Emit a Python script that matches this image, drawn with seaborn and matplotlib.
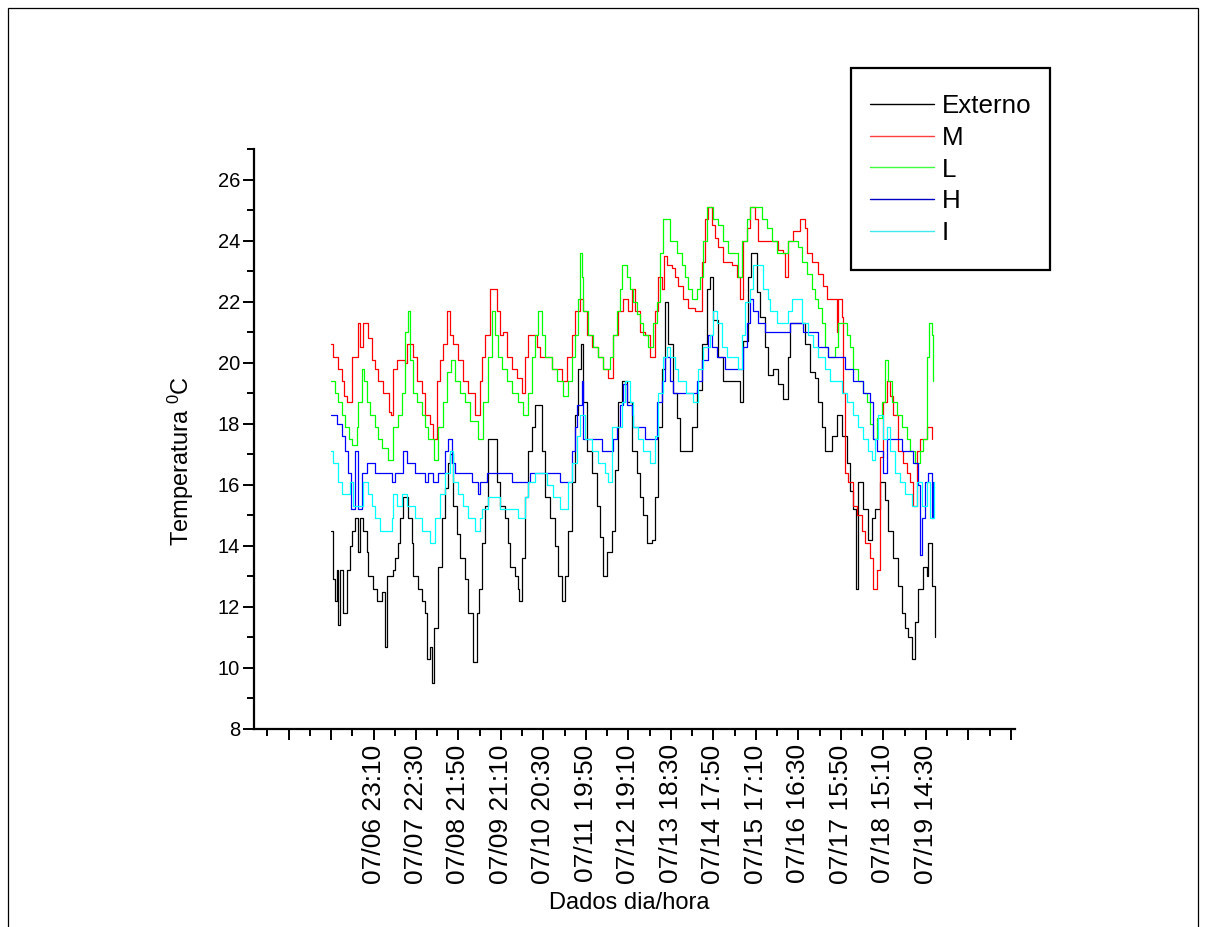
import numpy as np
import pandas as pd
import matplotlib
matplotlib.use("Agg")
import matplotlib.pyplot as plt
import seaborn as sns
from matplotlib.patches import Rectangle
from matplotlib.lines import Line2D
from matplotlib.ticker import FixedLocator, MultipleLocator

# ---------------- data (hours since 07/05 23:50, temperature in degC) ----------------
externo_t = [0.0, 1.3, 2.2, 3.1, 4.0, 4.9, 6.8, 8.6, 10.4, 11.4, 13.2, 15.0, 15.9, 17.7, 19.6, 20.5,
             23.2, 25.1, 27.8, 29.6, 30.6, 34.2, 35.1, 36.9, 37.9, 39.7, 41.6, 42.4, 44.3, 45.2, 47.9,
             49.8, 51.6, 52.5, 54.4, 55.3, 56.7, 58.9, 60.8, 62.6, 64.5, 65.4, 67.2, 69.0, 70.8, 73.6,
             75.4, 78.1, 80.0, 81.2, 82.7, 84.5, 86.4, 89.1, 91.0, 92.8, 95.5, 97.3, 98.3, 101.0, 102.8,
             103.4, 104.7, 106.5, 108.3, 110.2, 112.0, 113.8, 115.7, 117.5, 120.3, 123.0, 124.8, 126.7,
             128.5, 130.3, 132.1, 134.0, 135.8, 137.3, 138.5, 140.4, 143.1, 145.9, 147.7, 149.5, 151.4,
             154.1, 155.9, 157.7, 159.6, 162.3, 165.1, 167.8, 169.6, 171.5, 173.3, 176.1, 177.9, 179.7,
             181.5, 183.4, 185.2, 187.9, 189.8, 191.6, 195.2, 198.0, 200.7, 203.5, 206.2, 208.1, 209.9,
             212.6, 215.4, 221.8, 224.5, 226.4, 229.1, 230.9, 233.7, 235.5, 238.3, 240.1, 242.9, 245.6,
             248.4, 251.1, 252.0, 258.4, 260.3, 263.0, 265.7, 267.6, 269.4, 271.3, 273.1, 274.9, 277.7,
             280.4, 283.2, 285.0, 286.8, 288.3, 289.6, 292.3, 295.1, 296.9, 298.8, 301.5, 304.2, 306.1,
             308.8, 311.6, 313.4, 315.2, 317.1, 318.9, 320.7, 322.5, 325.3, 327.1, 328.0, 329.8, 331.6]
externo_v = [14.5, 12.9, 12.2, 13.2, 11.4, 13.2, 11.8, 13.2, 14.0, 14.5, 14.9, 13.8, 14.9, 14.5, 13.8, 13.0,
             12.6, 12.2, 12.5, 10.7, 13.0, 13.2, 13.6, 14.1, 14.9, 15.6, 15.6, 14.9, 14.1, 13.0, 12.6,
             12.2, 11.8, 10.3, 10.7, 9.5, 11.3, 13.3, 14.9, 15.9, 16.7, 17.0, 15.3, 14.4, 13.6, 12.9,
             11.8, 10.2, 11.8, 12.6, 14.1, 15.3, 17.5, 17.5, 16.1, 15.3, 14.9, 14.1, 13.3, 13.0, 12.6,
             12.2, 13.6, 15.6, 17.1, 17.9, 18.6, 18.6, 17.1, 15.6, 14.9, 14.0, 13.0, 12.2,
             13.0, 14.5, 16.1, 18.3, 19.8, 20.6, 18.7, 17.1, 16.4, 15.3, 14.3, 13.0, 13.8,
             14.5, 16.5, 18.7, 19.4, 18.7, 17.1, 16.4, 15.6, 15.0, 14.1, 14.2, 15.6, 17.9,
             19.8, 22.0, 20.6, 19.0, 18.2, 17.1, 17.1, 17.9, 19.1, 20.6, 22.4, 22.8, 21.4,
             20.2, 19.4, 19.4, 18.7, 20.7, 22.8, 23.6, 22.3, 21.5, 20.5, 19.6, 19.8, 19.3,
             18.8, 20.2, 21.3, 21.3, 20.6, 19.7, 19.5, 18.7, 17.9, 17.1, 17.1, 17.6, 18.3,
             17.6, 16.7, 15.8, 15.2, 12.6, 16.1, 15.2, 14.2, 14.9, 15.2, 16.1, 15.5, 14.5,
             13.6, 12.7, 11.8, 11.3, 11.0, 10.3, 11.5, 12.6, 13.3, 13.0, 14.1, 12.7, 11.0]

m_t = [0.0, 1.3, 4.0, 5.9, 7.1, 8.8, 11.4, 14.7, 15.9, 17.7, 20.3, 22.3, 24.2, 25.8, 28.5, 31.8, 32.9,
       34.0, 36.1, 40.6, 41.6, 43.9, 45.0, 47.1, 49.8, 51.6, 54.4, 56.0, 58.0, 59.8, 61.7, 63.5, 65.3,
       67.0, 69.9, 72.6, 75.4, 79.1, 81.8, 82.7, 84.5, 87.3, 89.1, 91.0, 92.8, 94.6, 96.5, 99.2, 101.9,
       104.7, 106.5, 108.3, 110.9, 112.9, 114.7, 118.4, 121.2, 123.9, 126.7, 129.4, 132.1, 134.0, 136.7,
       138.5, 140.4, 143.1, 146.8, 149.5, 152.2, 155.0, 157.7, 160.5, 163.2, 165.1, 166.9, 169.6, 172.4,
       175.1, 177.9, 179.7, 181.5, 183.0, 184.3, 187.0, 188.8, 190.6, 193.4, 196.1, 199.8, 203.5, 205.3,
       207.1, 209.0, 210.8, 212.6, 215.4, 220.0, 222.7, 224.5, 226.4, 228.2, 230.0, 232.8, 234.6, 238.3,
       242.0, 245.6, 248.2, 249.3, 251.1, 253.9, 257.5, 260.3, 261.2, 264.0, 267.6, 270.3, 272.2, 275.8,
       277.7, 278.6, 280.4, 281.3, 282.2, 284.0, 286.8, 288.6, 291.4, 293.2, 295.9, 297.7, 299.6, 301.4,
       303.2, 305.1, 306.9, 308.7, 311.5, 314.2, 316.1, 317.9, 319.7, 321.6, 323.4, 327.1, 329.8]
m_v = [20.6, 20.2, 19.8, 19.4, 18.9, 18.7, 20.2, 21.3, 20.5, 21.3, 20.8, 20.1, 19.8, 19.4, 19.0, 18.4, 18.3,
       19.8, 20.1, 20.0, 20.6, 20.6, 20.2, 19.4, 19.0, 18.3, 18.0, 17.5, 19.4, 20.1, 20.6, 21.7, 20.9,
       20.6, 20.1, 19.4, 19.0, 18.3, 19.4, 20.2, 20.9, 22.4, 22.4, 21.7, 20.9, 21.0, 20.2, 19.8, 19.5,
       19.0, 20.2, 20.9, 20.9, 20.5, 20.2, 20.2, 19.8, 19.8, 19.4, 20.2, 20.9, 21.7, 22.1,
       21.7, 20.9, 20.5, 20.2, 19.8, 19.5, 20.9, 21.7, 22.1, 21.7, 22.4, 21.7, 21.0, 20.9,
       20.2, 21.7, 22.8, 22.4, 23.5, 23.2, 23.1, 22.8, 22.5, 22.1, 21.8, 21.7, 23.3, 24.7,
       25.1, 24.5, 24.1, 23.8, 23.3, 23.2, 22.8, 22.1, 24.0, 24.4, 25.1, 24.7, 24.0, 24.0,
       24.0, 23.7, 23.6, 22.8, 24.0, 24.3, 24.7, 24.4, 23.6, 23.3, 22.9, 22.5, 22.1, 22.1,
       21.0, 22.1, 21.5, 19.0, 16.4, 16.1, 15.3, 15.0, 14.5, 14.1, 13.6, 12.6, 13.2, 16.9,
       18.7, 19.4, 18.9, 18.3, 17.1, 16.7, 16.4, 16.1, 15.3, 17.1, 17.5, 17.9, 17.5]

l_t = [0.0, 2.2, 4.0, 5.9, 7.7, 9.9, 11.5, 14.1, 15.0, 16.9, 18.3, 19.6, 21.4, 24.2, 26.0, 27.8, 31.5,
       34.2, 36.9, 38.8, 40.6, 42.1, 43.4, 45.2, 47.1, 49.8, 51.6, 53.4, 56.5, 58.9, 61.7, 63.5, 65.9,
       68.1, 70.8, 73.6, 76.3, 80.7, 83.6, 86.4, 88.2, 90.0, 91.8, 93.7, 96.5, 99.2, 102.7, 105.6,
       108.3, 110.2, 112.0, 113.8, 115.7, 117.5, 121.2, 123.9, 127.4, 130.3, 132.1, 134.0, 135.8,
       136.7, 137.8, 138.5, 141.3, 144.0, 146.8, 149.5, 153.2, 155.0, 156.8, 158.7, 159.9, 162.3,
       164.1, 166.0, 167.8, 169.6, 171.5, 174.2, 177.0, 178.8, 180.6, 182.5, 184.3, 186.1, 189.8,
       192.5, 194.4, 196.2, 198.0, 200.8, 202.6, 204.4, 206.3, 208.1, 210.0, 212.7, 215.4, 218.2,
       220.9, 223.7, 225.5, 228.2, 230.1, 233.7, 236.5, 239.2, 242.0, 244.7, 248.4, 251.1, 256.6,
       258.4, 261.2, 263.9, 265.7, 267.5, 269.4, 271.2, 273.0, 276.7, 278.5, 281.3, 283.1, 285.0,
       286.8, 289.5, 292.3, 294.1, 295.9, 297.7, 299.6, 302.3, 304.2, 306.0, 307.8, 310.6, 313.3,
       316.1, 317.9, 320.8, 323.4, 325.2, 327.1, 328.5, 329.8, 330.4]
l_v = [19.4, 19.0, 18.7, 18.3, 17.9, 17.5, 17.3, 17.9, 18.7, 19.8, 19.4, 18.7, 18.3, 17.9, 17.5, 17.2, 16.8,
       17.9, 18.3, 19.0, 21.0, 21.7, 20.1, 19.0, 18.7, 18.3, 17.9, 17.5, 16.8, 17.9, 18.7, 19.7, 20.1,
       19.4, 19.0, 18.7, 18.1, 17.5, 18.7, 20.2, 21.7, 20.9, 20.2, 19.8, 19.4, 19.0, 18.7, 18.3,
       19.0, 20.2, 20.9, 21.7, 20.9, 20.2, 19.8, 19.4, 18.9, 19.4, 20.2, 20.9, 22.1,
       23.6, 22.8, 21.7, 20.9, 20.5, 20.2, 19.8, 20.2, 20.9, 21.7, 22.4, 23.2, 22.8,
       22.4, 22.0, 21.6, 21.3, 20.9, 20.5, 21.3, 22.0, 23.6, 24.7, 24.7, 24.0, 23.6,
       23.2, 22.8, 22.4, 22.1, 22.4, 22.8, 24.0, 25.1, 25.1, 24.7, 24.5, 24.0, 23.6,
       23.6, 22.8, 24.0, 24.7, 25.1, 25.1, 24.7, 24.4, 24.0, 23.6, 23.6, 24.0, 23.8,
       23.3, 22.9, 22.4, 22.1, 21.8, 21.3, 20.5, 20.2, 20.5, 21.3, 21.3, 20.9, 20.5,
       19.8, 19.4, 19.0, 18.7, 18.0, 17.5, 18.2, 18.7, 20.1, 19.4, 18.7, 18.3, 17.9,
       17.5, 17.1, 16.7, 17.1, 17.5, 20.2, 21.3, 20.9, 19.4]

h_t = [0.0, 3.1, 5.9, 7.7, 9.5, 11.0, 13.2, 15.0, 16.9, 19.6, 22.3, 24.2, 32.4, 33.3, 35.1, 39.7, 41.6,
       45.2, 46.1, 50.7, 51.6, 53.3, 56.2, 58.9, 62.6, 64.5, 66.3, 68.1, 75.4, 77.2, 80.9, 81.8, 85.5,
       97.3, 99.2, 106.5, 109.2, 124.8, 125.7, 130.3, 132.1, 134.0, 134.9, 136.7, 137.6, 138.5, 147.7,
       148.6, 153.2, 155.0, 156.8, 158.7, 160.5, 162.3, 165.1, 166.0, 172.4, 177.9, 178.8, 181.5, 183.4,
       186.1, 187.9, 197.1, 200.8, 203.5, 207.1, 209.0, 211.7, 216.3, 223.6, 226.4, 228.2, 230.0, 231.9,
       234.6, 238.3, 250.9, 252.0, 258.6, 259.3, 265.7, 267.6, 273.0, 281.3, 282.2, 286.8, 292.3, 296.0,
       297.8, 299.6, 302.4, 303.2, 305.1, 312.4, 313.3, 317.9, 319.7, 322.5, 323.4, 324.3, 326.1, 327.9,
       329.8, 330.7]
h_v = [18.3, 18.0, 17.6, 17.1, 16.4, 15.2, 17.1, 15.2, 16.4, 16.7, 16.7, 16.4, 16.4, 16.1, 16.4, 17.1, 16.7,
       16.7, 16.4, 16.4, 16.1, 16.4, 16.1, 16.4, 17.1, 17.5, 16.7, 16.4, 16.4, 16.1, 15.7, 16.1, 16.4,
       16.4, 16.1, 16.1, 16.4, 16.4, 16.1, 16.1, 17.1, 17.9, 18.6, 18.6, 19.4, 17.5, 17.5,
       17.1, 17.1, 17.5, 17.9, 18.6, 19.3, 18.6, 18.3, 17.9, 17.5, 17.5, 18.7, 19.4, 20.2,
       19.4, 19.0, 19.0, 19.4, 20.1, 20.9, 20.5, 20.2, 19.8, 19.8, 20.5, 21.3, 22.1, 21.7,
       21.3, 21.0, 21.0, 21.3, 21.3, 21.0, 21.0, 20.5, 20.2, 20.2, 19.8, 19.4, 19.0, 18.7,
       17.5, 17.1, 17.1, 16.4, 17.5, 17.5, 17.1, 17.1, 16.7, 16.0, 13.7, 14.9, 16.1, 16.4,
       14.9, 16.1]

i_t = [0.0, 1.3, 4.0, 5.9, 8.6, 10.4, 12.2, 15.9, 17.7, 20.5, 22.3, 24.2, 26.9, 32.4, 33.3, 34.2, 36.1,
       38.8, 41.6, 44.3, 46.1, 49.8, 54.4, 57.1, 59.8, 62.6, 65.3, 67.1, 69.9, 72.6, 75.4, 79.1, 81.8,
       82.7, 86.4, 91.8, 92.8, 99.2, 102.8, 106.5, 108.3, 112.0, 117.5, 118.4, 122.1, 125.7, 128.5,
       130.3, 132.1, 134.9, 136.7, 139.5, 143.1, 146.8, 150.4, 152.2, 154.1, 157.7, 159.6, 161.4, 164.1,
       166.0, 168.7, 171.5, 175.1, 177.9, 179.7, 182.5, 184.3, 186.1, 188.8, 190.6, 195.2, 198.9, 201.6,
       204.4, 208.1, 209.9, 211.7, 214.5, 217.2, 223.6, 225.5, 227.3, 230.0, 231.9, 235.5, 237.4, 240.1,
       241.0, 244.7, 249.3, 251.1, 252.9, 255.7, 258.4, 262.1, 264.9, 267.6, 271.3, 274.0, 280.4, 283.2,
       286.8, 289.6, 292.3, 295.1, 296.9, 298.8, 300.6, 303.3, 305.1, 306.9, 309.7, 312.4, 315.1, 318.8,
       321.6, 324.3, 327.1, 328.9, 331.2]
i_v = [17.1, 16.7, 16.1, 15.7, 15.7, 16.1, 15.3, 15.3, 16.1, 15.7, 15.3, 14.9, 14.5, 14.5, 14.9, 15.7, 15.3,
       15.7, 15.3, 15.3, 14.9, 14.5, 14.1, 14.9, 15.7, 16.4, 17.1, 16.1, 15.7, 15.3, 14.9, 14.5, 14.9,
       15.2, 15.6, 15.6, 15.2, 15.2, 14.9, 15.6, 16.1, 16.4, 16.4, 16.0, 15.6, 15.2, 15.2,
       16.1, 16.7, 17.6, 18.3, 17.5, 17.1, 16.7, 16.4, 16.1, 17.9, 17.9, 18.7, 19.4, 18.7,
       17.9, 17.5, 17.1, 16.7, 17.6, 19.0, 20.2, 20.5, 20.2, 19.8, 19.4, 19.0, 18.7, 19.8,
       20.5, 20.9, 21.7, 21.3, 20.5, 20.2, 19.8, 20.9, 22.0, 22.4, 23.2, 23.2, 22.4, 22.1,
       21.7, 21.3, 21.3, 21.7, 22.1, 22.1, 21.3, 20.9, 20.5, 20.2, 19.8, 19.4, 19.0, 18.7,
       18.3, 17.9, 17.5, 17.1, 16.8, 17.5, 18.3, 17.5, 17.9, 17.1, 16.4, 16.1, 15.7, 15.3,
       16.1, 15.3, 16.1, 14.9, 16.1]

series_names = ["Externo", "M", "L", "H", "I"]
series_colors = ["#000000", "#FF0000", "#00FF00", "#0000FF", "#00FFFF"]
legend_colors = ["#000000", "#FF4040", "#40FF40", "#0000C0", "#40E8F0"]

tick_labels = ["07/06 23:10", "07/07 22:30", "07/08 21:50", "07/09 21:10", "07/10 20:30",
               "07/11 19:50", "07/12 19:10", "07/13 18:30", "07/14 17:50", "07/15 17:10",
               "07/16 16:30", "07/17 15:50", "07/18 15:10", "07/19 14:30"]
label_step_h = 23 + 20 / 60.0   # 23h20m between labelled ticks

# ---------------- build long table ----------------
frames = []
for name, t, v in zip(series_names,
                      [externo_t, m_t, l_t, h_t, i_t],
                      [externo_v, m_v, l_v, h_v, i_v]):
    frames.append(pd.DataFrame({"hora": t, "temp": v, "serie": name}))
df = pd.concat(frames, ignore_index=True)

# ---------------- style ----------------
sns.set_theme(style="ticks")
plt.rcParams["font.family"] = ["Liberation Sans", "DejaVu Sans"]
plt.rcParams["mathtext.fontset"] = "custom"
plt.rcParams["mathtext.rm"] = "Liberation Sans"
plt.rcParams["mathtext.it"] = "Liberation Sans"
for key in ["text.color", "axes.labelcolor", "xtick.color", "ytick.color", "axes.edgecolor"]:
    plt.rcParams[key] = "black"

W, H = 1206, 927
fig = plt.figure(figsize=(W / 100, H / 100), dpi=100)
fig.patch.set_facecolor("white")

ax_l, ax_b, ax_r, ax_t = 254, 729, 1015, 149
ax = fig.add_axes([ax_l / W, 1 - ax_b / H, (ax_r - ax_l) / W, (ax_b - ax_t) / H])
ax.set_facecolor("white")

sns.lineplot(data=df, x="hora", y="temp", hue="serie", hue_order=series_names,
             palette=dict(zip(series_names, series_colors)), estimator=None, sort=False,
             drawstyle="steps-post", linewidth=0.9, legend=False, ax=ax)

ax.set_xlim(-42.3, 375.6)
ax.set_ylim(8, 27)

# x ticks
major_x = [label_step_h * k for k in range(-1, 17)]
ax.xaxis.set_major_locator(FixedLocator(major_x))
xt_labels = []
for k in range(-1, 17):
    if 1 <= k <= len(tick_labels):
        xt_labels.append(tick_labels[k - 1])
    else:
        xt_labels.append("")
ax.set_xticklabels(xt_labels, rotation=90, fontsize=19)
ax.xaxis.set_minor_locator(FixedLocator([label_step_h * (k + 0.5) for k in range(-2, 17)]))

# y ticks
ax.yaxis.set_major_locator(FixedLocator(list(range(8, 27, 2))))
ax.yaxis.set_minor_locator(MultipleLocator(1))
ax.tick_params(axis="y", labelsize=14.5)

for side in ["top", "right"]:
    ax.spines[side].set_visible(False)
for side in ["left", "bottom"]:
    ax.spines[side].set_linewidth(1.6)
    ax.spines[side].set_color("black")
ax.tick_params(which="major", direction="out", length=8, width=1.4, color="black", pad=2)
ax.tick_params(which="minor", direction="out", length=5, width=1.4, color="black")
ax.tick_params(axis="x", which="major", pad=3)
ax.grid(False)

ax.set_xlabel("Dados dia/hora", fontsize=17)
ax.set_ylabel("Temperatura $^\\mathrm{0}$C", fontsize=17)
ax.xaxis.set_label_coords((629 - ax_l) / (ax_r - ax_l), -(903 - ax_b) / (ax_b - ax_t))
ax.xaxis.label.set_va("center")
ax.yaxis.set_label_coords((181 - ax_l) / (ax_r - ax_l), (ax_b - 461) / (ax_b - ax_t))
ax.yaxis.label.set_va("center")

# ---------------- legend ----------------
handles = [Line2D([0], [0], color=c, lw=1.0) for c in legend_colors]
fig.patches.append(Rectangle((851 / W, 1 - 270 / H), (1050 - 851) / W, (270 - 68) / H,
                             transform=fig.transFigure, fill=False, ec="black", lw=1.6))
fig.legend(handles, series_names, loc="upper left", bbox_to_anchor=(870 / W, 1 - 94 / H),
           frameon=False, fontsize=18.7, handlelength=2.45, handletextpad=0.3,
           labelspacing=0.3, borderpad=0, borderaxespad=0)

# outer border of the picture
fig.patches.append(Rectangle((8 / W, -0.02), (1198 - 8) / W, 1.02 - 8 / H,
                             transform=fig.transFigure, fill=False, ec="black", lw=0.9))

fig.savefig("out.png", dpi=100, facecolor="white")
